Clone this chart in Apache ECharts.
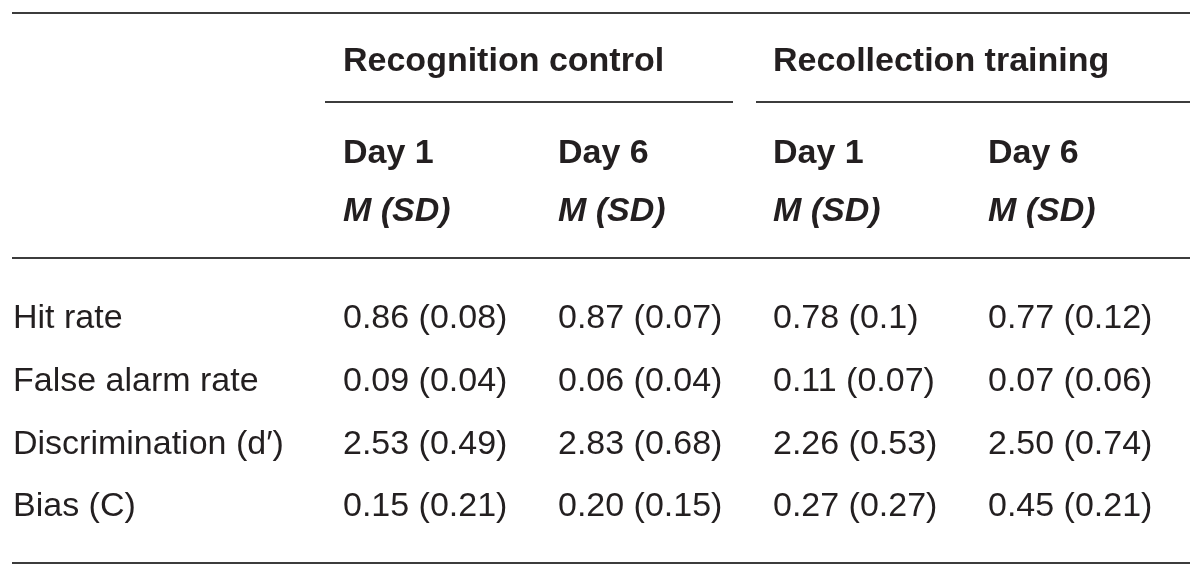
<!DOCTYPE html>
<html>
<head>
<meta charset="utf-8">
<script src="https://cdn.jsdelivr.net/npm/echarts@6/dist/echarts.min.js"></script>
<style>html,body{margin:0;padding:0;background:#fff}#c{width:1200px;height:577px}</style>
</head>
<body>
<div id="c"></div>
<script>
// ---- data ----
var groups = ['Recognition control', '', 'Recollection training', ''];
var days = ['Day 1', 'Day 6', 'Day 1', 'Day 6'];
var stats = ['M (SD)', 'M (SD)', 'M (SD)', 'M (SD)'];
var measures = ['Hit rate', 'False alarm rate', 'Discrimination (d\u2032)', 'Bias (C)'];
// means and SDs per column (rows in measures order)
var rcDay1M  = [0.86, 0.09, 2.53, 0.15];
var rcDay1SD = [0.08, 0.04, 0.49, 0.21];
var rcDay6M  = [0.87, 0.06, 2.83, 0.20];
var rcDay6SD = [0.07, 0.04, 0.68, 0.15];
var rtDay1M  = [0.78, 0.11, 2.26, 0.27];
var rtDay1SD = [0.1, 0.07, 0.53, 0.27];
var rtDay6M  = [0.77, 0.07, 2.50, 0.45];
var rtDay6SD = [0.12, 0.06, 0.74, 0.21];

var columnsM = [rcDay1M, rcDay6M, rtDay1M, rtDay6M];
var columnsSD = [rcDay1SD, rcDay6SD, rtDay1SD, rtDay6SD];

var cells = [];
columnsM.forEach(function (col, c) {
  col.forEach(function (m, r) {
    cells.push([c, r, m.toFixed(2) + ' (' + String(columnsSD[c][r]) + ')']);
  });
});

var FONT = '"Liberation Sans", Arial, Helvetica, sans-serif';
var TXT = '#231f20';
var RULE = '#3c3c3c';

var chart = echarts.init(document.getElementById('c'), null, {renderer: 'canvas'});
function topAxis(data, margin, style) {
  return {
    type: 'category', data: data, position: 'top', boundaryGap: false, gridIndex: 0,
    axisLine: {show: false}, axisTick: {show: false}, splitLine: {show: false},
    axisLabel: Object.assign({show: true, interval: 0, margin: margin, align: 'left', verticalAlign: 'middle',
      color: TXT, fontFamily: FONT, fontSize: 34, fontWeight: 'bold'}, style || {})
  };
}
chart.setOption({
  animation: false,
  grid: {left: 343, top: 319, width: 645, height: 188, containLabel: false},
  xAxis: [
    {type: 'category', data: days, position: 'top', boundaryGap: false,
      axisLine: {show: false}, axisTick: {show: false}, axisLabel: {show: false}, splitLine: {show: false}},
    topAxis(groups, 257),
    topAxis(days, 165),
    topAxis(stats, 107, {fontStyle: 'italic'})
  ],
  yAxis: {
    type: 'category', data: measures, inverse: true, boundaryGap: false,
    axisLine: {show: false}, axisTick: {show: false}, splitLine: {show: false},
    axisLabel: {margin: 330, align: 'left', verticalAlign: 'middle', color: TXT, fontFamily: FONT, fontSize: 34}
  },
  series: [{
    type: 'scatter', xAxisIndex: 0, data: cells, symbolSize: 0.01,
    encode: {x: 0, y: 1},
    itemStyle: {opacity: 1, color: 'rgba(0,0,0,0)'},
    emphasis: {disabled: true},
    label: {show: true, position: 'inside', align: 'left', verticalAlign: 'middle',
      formatter: function (p) { return p.data[2]; },
      color: TXT, opacity: 1, fontFamily: FONT, fontSize: 34}
  }],
  graphic: [
    {type: 'line', shape: {x1: 12, y1: 13, x2: 1190, y2: 13}, style: {stroke: RULE, lineWidth: 2}},
    {type: 'line', shape: {x1: 325, y1: 102, x2: 733, y2: 102}, style: {stroke: RULE, lineWidth: 2}},
    {type: 'line', shape: {x1: 756, y1: 102, x2: 1190, y2: 102}, style: {stroke: RULE, lineWidth: 2}},
    {type: 'line', shape: {x1: 12, y1: 258, x2: 1190, y2: 258}, style: {stroke: RULE, lineWidth: 2}},
    {type: 'line', shape: {x1: 12, y1: 563, x2: 1190, y2: 563}, style: {stroke: RULE, lineWidth: 2}}
  ]
});
</script>
</body>
</html>
